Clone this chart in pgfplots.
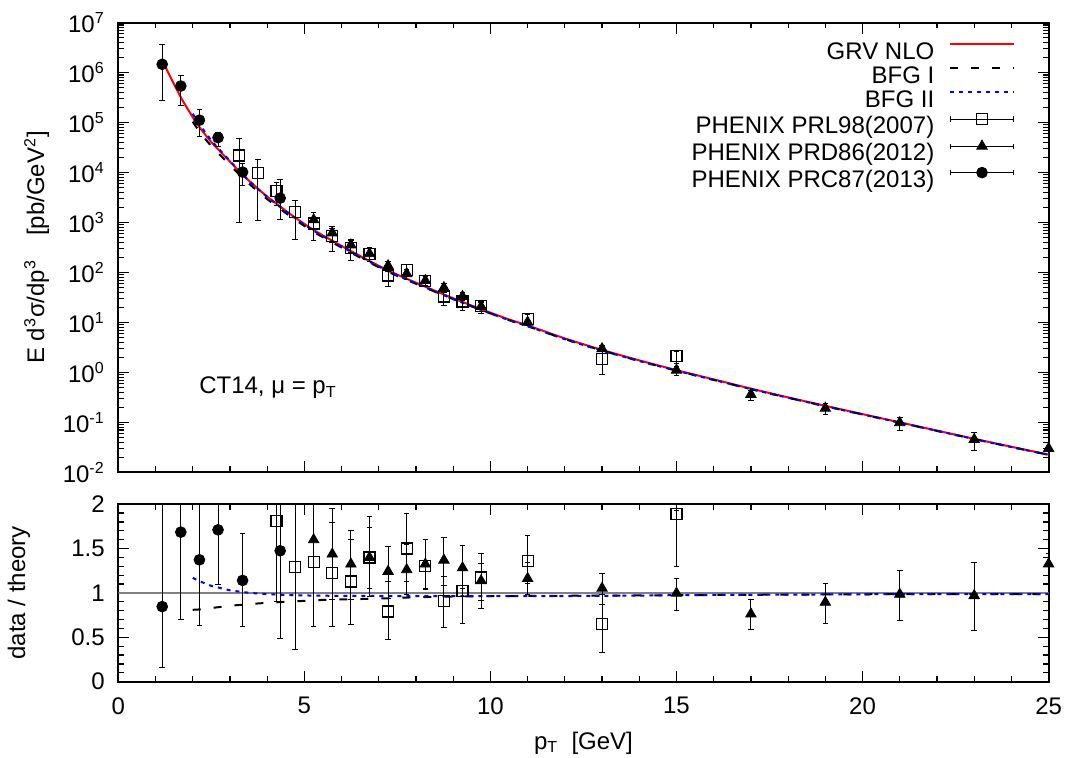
\documentclass[border=0pt]{standalone}
\usepackage{fontspec}
\setmainfont{Liberation Sans}
\usepackage{pgfplots}
\usepackage{pgfplotstable}
\pgfplotsset{compat=1.18}

\pgfplotstableread{
x y
1.2 1.622e6
1.45 6.92e5
1.7 3.02e5
2.0 1.288e5
2.2 7.76e4
2.5 4.07e4
2.7 2.82e4
3.0 1.66e4
3.35 8.91e3
3.7 5.13e3
4.0 3.31e3
4.35 2.09e3
4.75 1259
5.25 708
5.75 431.5
6.25 269
6.75 170
7.25 109.6
7.75 75.0
8.25 51.9
8.75 36.3
9.25 25.7
9.75 18.4
10.5 11.48
11 8.71
12 4.79
13 2.82
14 1.74
15 1.109
16 0.724
17 0.473
18 0.316
19 0.214
20 0.146
21 0.100
22 0.0684
23 0.0468
24 0.0324
25 0.0226
}\grv

\pgfplotstableread{
x y
2.0 1.043e5
2.2 6.32e4
2.5 3.38e4
2.7 2.37e4
3.0 1.419e4
3.35 7734
3.7 4514
4.0 2939
4.35 1875
4.75 1139
5.25 649
5.75 399
6.25 250
6.75 158.8
7.25 103.0
7.75 71.1
8.25 49.5
8.75 34.8
9.25 24.7
9.75 17.72
10.5 11.08
11 8.41
12 4.64
13 2.735
14 1.691
15 1.081
16 0.707
17 0.463
18 0.310
19 0.2104
20 0.1438
21 0.0986
22 0.0675
23 0.0462
24 0.0320
25 0.02233
}\bfgone

\pgfplotstableread{
x y
2.0 1.507e5
2.2 8.77e4
2.5 4.40e4
2.7 2.99e4
3.0 1.71e4
3.35 9000
3.7 5104
4.0 3267
4.35 2048
4.75 1228
5.25 687
5.75 417.7
6.25 260.1
6.75 164.2
7.25 105.8
7.75 72.4
8.25 50.1
8.75 35.0
9.25 24.8
9.75 17.76
10.5 11.08
11 8.41
12 4.62
13 2.73
14 1.688
15 1.081
16 0.707
17 0.463
18 0.310
19 0.2104
20 0.1438
21 0.0986
22 0.0675
23 0.0462
24 0.0320
25 0.02233
}\bfgtwo

\pgfplotstableread{
x y ep em
3.25 2.2e4 2.5e4 2.1e4
3.75 9.8e3 8.7e3 8.7e3
4.25 4311 1882 2167
4.75 1622 1148 1159
5.25 954 604 515
5.75 528 244 127
6.25 304 126 54
6.75 238 58 59.5
7.25 86.6 37.2 35.1
7.75 112.5 30 27.7
8.25 67.5 15.5 13.5
8.75 33.0 10.2 10.9
9.25 26.2 7.2 9.2
9.75 21.6 5.1 6.5
11 11.86 2.51 2.19
13 1.825 0.93 0.903
15 2.09 0.51 0.57
}\prltop

\pgfplotstableread{
x y ep em
5.25 1133 467 694
5.75 620.5 220.5 353
6.25 356 101 184
6.75 238 78 75
7.25 136.2 30.4 33.2
7.75 94.7 21.6 21.2
8.25 68.8 14.2 14.3
8.75 49.7 9.1 10.5
9.25 33.0 6.3 6.0
9.75 20.9 3.6 4.0
11 10.13 1.54 1.59
13 2.97 0.48 0.53
15 1.106 0.187 0.222
17 0.361 0.078 0.085
19 0.1915 0.0441 0.0507
21 0.0985 0.0263 0.0297
23 0.0454 0.0176 0.0183
25 0.0300 0.0028 0.0029
}\prdtop

\pgfplotstableread{
x y ep em
1.18 1.47e6 2.23e6 1.19e6
1.68 5.4e5 3.2e5 3.2e5
2.18 1.12e5 6.8e4 5.9e4
2.68 5.0e4 1.2e4 1.7e4
3.34 1.02e4 5.3e3 4.6e3
4.35 3.08e3 4.22e3 1.92e3
}\prctop

\pgfplotstableread{
x y
2.0 0.81
2.2 0.815
2.5 0.83
2.7 0.84
3.0 0.855
3.35 0.868
3.7 0.88
4.0 0.888
4.35 0.897
4.75 0.905
5.25 0.917
5.75 0.925
6.25 0.929
6.75 0.934
7.25 0.94
7.75 0.948
8.25 0.954
8.75 0.958
9.25 0.961
9.75 0.963
10.5 0.965
11 0.966
12 0.968
13 0.97
14 0.972
15 0.975
16 0.977
17 0.979
18 0.981
19 0.983
20 0.985
21 0.986
22 0.987
23 0.987
24 0.988
25 0.988
}\rone

\pgfplotstableread{
x y
2.0 1.17
2.2 1.13
2.5 1.08
2.7 1.06
3.0 1.03
3.35 1.01
3.7 0.995
4.0 0.987
4.35 0.98
4.75 0.975
5.25 0.97
5.75 0.968
6.25 0.967
6.75 0.966
7.25 0.965
8.25 0.965
9.25 0.965
10.5 0.965
12 0.965
13 0.968
14 0.97
15 0.975
16 0.977
17 0.979
18 0.981
19 0.983
20 0.985
21 0.986
22 0.987
23 0.987
24 0.988
25 0.988
}\rtwo

\pgfplotstableread{
x y ep em
1.18 0.846 1.294 0.686
1.68 1.685 1.015 0.98
2.18 1.373 0.827 0.735
2.68 1.711 0.439 0.611
3.34 1.141 0.529 0.514
4.35 1.475 2.025 0.985
}\prcrat

\pgfplotstableread{
x y ep em
4.25 1.81 0.79 0.91
4.75 1.288 0.912 0.92
5.25 1.348 0.852 0.728
5.75 1.224 0.566 0.294
6.25 1.13 0.47 0.20
6.75 1.40 0.34 0.35
7.25 0.79 0.34 0.32
7.75 1.50 0.40 0.37
8.25 1.30 0.30 0.26
8.75 0.908 0.282 0.298
9.25 1.021 0.279 0.361
9.75 1.175 0.275 0.355
11 1.362 0.288 0.252
13 0.647 0.33 0.32
15 1.887 0.043 0.59
}\prlrat

\pgfplotstableread{
x y ep em
5.25 1.60 0.6 0.98
5.75 1.438 0.512 0.818
6.25 1.325 0.375 0.685
6.75 1.40 0.46 0.44
7.25 1.243 0.277 0.303
7.75 1.262 0.288 0.282
8.25 1.325 0.275 0.275
8.75 1.37 0.25 0.29
9.25 1.283 0.247 0.233
9.75 1.137 0.193 0.217
11 1.163 0.177 0.183
13 1.053 0.169 0.188
15 0.997 0.169 0.2
17 0.763 0.166 0.18
19 0.895 0.206 0.237
21 0.985 0.263 0.297
23 0.970 0.376 0.391
25 1.327 0.123 0.127
}\prdrat

\pgfplotsset{
  myaxis/.style={
    scale only axis, width=465.15pt,
    xmin=0, xmax=25,
    xtick={0,5,10,15,20,25}, minor x tick num=4,
    axis line style={line width=0.9pt},
    major tick length=5.5pt, minor tick length=2.9pt,
    tick style={line width=0.6pt, black},
    tick align=inside,
    /pgf/number format/assume math mode=true,
    tick label style={font=\fontsize{12}{14}\selectfont},
    label style={font=\fontsize{12}{14}\selectfont},
    yticklabel style={xshift=-2.6pt},
    xticklabel style={yshift=-3.6pt},
  },
  errleg/.style={legend image code/.code={
    \draw[black, line width=0.5pt, solid] (0pt,4.3pt) -- (31.7pt,4.3pt);
    \draw[black, line width=0.5pt, solid] (0pt,3.0pt) -- (0pt,5.6pt);
    \draw[black, line width=0.5pt, solid] (31.7pt,3.0pt) -- (31.7pt,5.6pt);
    \draw[##1] plot coordinates {(15.85pt,4.3pt)};
  }},
  lineleg/.style={legend image code/.code={
    \draw[##1] (0pt,4.3pt) -- (31.7pt,4.3pt);
  }},
  eb/.style={error bars/.cd, y dir=both, y explicit,
    error bar style={line width=0.5pt, black, solid},
    error mark=-,
    error mark options={rotate=90, black, line width=0.5pt, mark size=1.4pt, solid},
    /pgfplots/.cd},
  sqm/.style={only marks, mark=square, mark size=2.75pt, mark options={black, line width=0.6pt, fill=none, solid}},
  trm/.style={only marks, mark=triangle*, mark size=3.0pt, mark options={black, fill=black, solid}},
  cim/.style={only marks, mark=*, mark size=2.7pt, mark options={black, fill=black, solid}},
}

\begin{document}
\fontsize{12}{14}\selectfont
\begin{tikzpicture}
\path[use as bounding box] (-59.15pt,-38.15pt) rectangle (475.85pt,340.85pt);

\begin{axis}[myaxis, at={(0,104.7pt)}, anchor=south west, height=224.8pt,
  ymode=log, ymin=1e-2, ymax=1e7,
  ytick={1e-2,1e-1,1,10,100,1000,1e4,1e5,1e6,1e7},
  yticklabels={10\textsuperscript{-2},10\textsuperscript{-1},10\textsuperscript{0},10\textsuperscript{1},10\textsuperscript{2},10\textsuperscript{3},10\textsuperscript{4},10\textsuperscript{5},10\textsuperscript{6},10\textsuperscript{7}},
  xticklabel=\empty,
  ylabel={E d\textsuperscript{3}σ/dp\textsuperscript{3}\quad [pb/GeV\textsuperscript{2}]},
  ylabel style={at={(axis description cs:-0.0877,0.5)}, anchor=center},
  legend plot pos=right, legend cell align=right,
  legend style={at={(0.964,0.959)}, anchor=north east, draw=none, fill=none,
    inner sep=0pt, row sep=0.5pt, /tikz/column sep=7.5pt,
    font=\fontsize{12}{14}\selectfont,
    nodes={inner sep=0pt, text height=8.8pt, text depth=2.7pt}},
]
\addplot[red, line width=1pt, smooth, lineleg] table[x=x,y=y] {\grv};
\addlegendentry{GRV NLO}
\addplot[black, line width=1pt, dash pattern=on 4pt off 6.5pt, smooth, lineleg] table[x=x,y=y] {\bfgone};
\addlegendentry{BFG I}
\addplot[blue, line width=1pt, dash pattern=on 2pt off 2.5pt, smooth, lineleg] table[x=x,y=y] {\bfgtwo};
\addlegendentry{BFG II}
\addplot[sqm, errleg, eb] table[x=x, y=y, y error plus=ep, y error minus=em] {\prltop};
\addlegendentry{PHENIX PRL98(2007)}
\addplot[trm, errleg, eb] table[x=x, y=y, y error plus=ep, y error minus=em] {\prdtop};
\addlegendentry{PHENIX PRD86(2012)}
\addplot[cim, errleg, eb] table[x=x, y=y, y error plus=ep, y error minus=em] {\prctop};
\addlegendentry{PHENIX PRC87(2013)}
\node[anchor=west, font=\fontsize{12}{14}\selectfont] at (rel axis cs:0.078,0.1875) {CT14, μ = p\textsubscript{T}};
\end{axis}

\begin{axis}[myaxis, at={(0,0)}, anchor=south west, height=88.75pt,
  ymin=0, ymax=2, ytick={0,0.5,1,1.5,2}, minor y tick num=4,
  xlabel={p\textsubscript{T}\ \ [GeV]},
  xlabel style={at={(axis description cs:0.5,-0.345)}, anchor=center},
  ylabel={data / theory},
  ylabel style={at={(axis description cs:-0.1067,0.5)}, anchor=center},
]
\addplot[color={rgb,255:red,128;green,128;blue,128}, line width=0.7pt] coordinates {(0,1) (25,1)};
\addplot[black, line width=1pt, dash pattern=on 4pt off 6.5pt, smooth] table[x=x,y=y] {\rone};
\addplot[blue, line width=1pt, dash pattern=on 2pt off 2.5pt, smooth] table[x=x,y=y] {\rtwo};
\addplot[sqm, eb] table[x=x, y=y, y error plus=ep, y error minus=em] {\prlrat};
\addplot[trm, eb] table[x=x, y=y, y error plus=ep, y error minus=em] {\prdrat};
\addplot[cim, eb] table[x=x, y=y, y error plus=ep, y error minus=em] {\prcrat};
\end{axis}
\end{tikzpicture}
\end{document}
